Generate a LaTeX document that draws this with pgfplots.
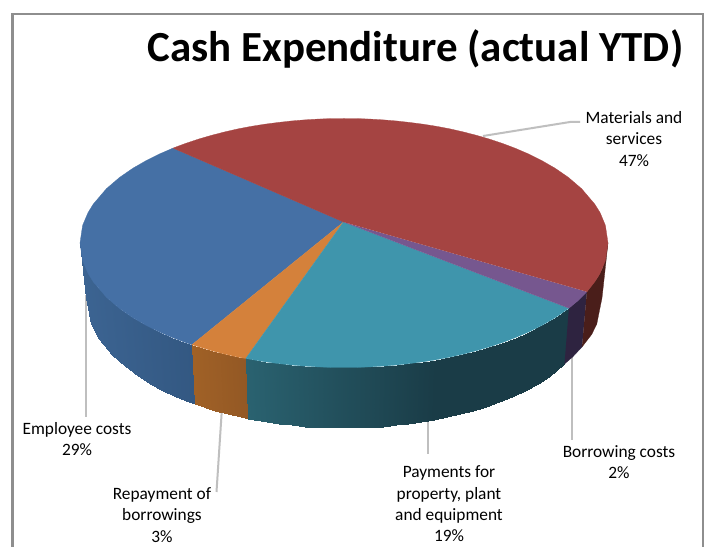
\documentclass[border=0pt]{standalone}
\usepackage{pgfplots}
\pgfplotsset{compat=1.18}
\usepackage{fontspec}
\setmainfont{Carlito}
\definecolor{cBlue}{HTML}{4570A5}
\definecolor{cRed}{HTML}{A54442}
\definecolor{cTeal}{HTML}{3F95AC}
\definecolor{cOrange}{HTML}{D4813B}
\definecolor{cPurple}{HTML}{76578F}
\definecolor{cPurpleS}{HTML}{2E2340}
\definecolor{cRedS}{HTML}{4A1E1A}
\definecolor{cLead}{HTML}{BFBFBF}
\definecolor{cFrame}{HTML}{8E8E8E}
\begin{document}
\begin{tikzpicture}
\pgfplotsset{
  sideface/.style={surf, shader=interp, mesh/cols=2, point meta=explicit, forget plot},
  lead/.style={draw=cLead, line width=1.5pt, no markers, forget plot},
  topface/.style={line width=0.2pt, no markers, forget plot},
}
\begin{axis}[
  scale only axis, width=531pt, height=410.25pt,
  xmin=0, xmax=708, ymin=0, ymax=547, y dir=reverse,
  hide axis, enlargelimits=false, clip=false,
  point meta min=0, point meta max=1,
  colormap={sideblue}{rgb255=(60,100,146) rgb255=(51,88,130)},
  colormap={sideorange}{rgb255=(160,97,38) rgb255=(147,88,37)},
  colormap={sideteal}{rgb255=(42,98,112) rgb255=(26,60,71)},
]
% page background
\addplot[fill=white, draw=none, forget plot] coordinates {(0,0) (708,0) (708,547) (0,547)};
% frame
\addplot[draw=cFrame, line width=1.6pt, no markers, forget plot] coordinates {(12.5,547) (12.5,14) (703,14) (703,547)};
% leader lines
\addplot[lead] coordinates {(86,295) (86,417)};
\addplot[lead] coordinates {(221.7,412) (216.5,492)};
\addplot[lead] coordinates {(428,420) (428,454)};
\addplot[lead] coordinates {(571.7,355) (571.7,440)};
\addplot[lead] coordinates {(483,136) (570,122) (580,122)};
% side faces
\addplot[sideface, colormap name=sideblue] table[x=x,y=y,meta=m] {
x y m
80 243 0
86 298 0
85.3 267.8 0.05
91.2 323.9 0.05
93.2 281.8 0.12
98.9 338.6 0.12
106.4 297.3 0.24
111.8 354.7 0.24
119.6 308.6 0.35
124.7 366.5 0.35
132.8 317.7 0.47
137.6 376 0.47
146 325.3 0.59
150.5 383.9 0.59
159.2 331.9 0.71
163.4 390.8 0.71
172.4 337.6 0.83
176.3 396.8 0.83
185.6 342.6 0.94
189.2 402 0.94
192 344.7 1
195.4 404.2 1
};
\addplot[sideface, colormap name=sideorange] table[x=x,y=y,meta=m] {
x y m
192 344.7 0
195.4 404.2 0
212 350.8 0.35
215 410.6 0.35
225.2 354.2 0.6
227.9 414.1 0.6
238.4 357.2 0.85
240.8 417.2 0.85
245.8 358.5 1
248 418.6 1
};
\addplot[sideface, colormap name=sideteal] table[x=x,y=y,meta=m] {
x y m
245.8 358.5 0
248 418.6 0
264.8 361.8 0.1
266.6 422 0.1
278 363.5 0.17
279.5 423.8 0.17
291.2 365 0.24
292.4 425.4 0.24
304.4 366.1 0.31
305.3 426.6 0.31
317.6 366.9 0.38
318.2 427.4 0.38
330.8 367.4 0.45
331.1 427.9 0.45
344 367.5 0.52
344 428 0.52
357.2 367.4 0.58
356.9 427.9 0.58
370.4 366.9 0.65
369.8 427.4 0.65
383.6 366.1 0.72
382.7 426.6 0.72
396.8 365 0.79
395.6 425.4 0.79
410 363.5 0.86
408.5 423.8 0.86
423.2 361.8 0.93
421.4 422 0.93
436.4 359.7 1
434.3 419.8 1
449.6 357.2 1
447.2 417.2 1
462.8 354.2 1
460.1 414.1 1
476 350.8 1
473 410.6 1
489.2 347 1
485.9 406.6 1
502.4 342.6 1
498.8 402 1
515.6 337.6 1
511.7 396.8 1
528.8 331.9 1
524.6 390.8 1
542 325.3 1
537.5 383.9 1
555.2 317.7 1
550.4 376 1
568.9 308.2 1
564.5 364 1
};
\addplot[fill=cPurpleS, draw=cPurpleS, topface] coordinates {(568.9,308.2) (577.6,301) (586.9,291.8) (582,347) (572.6,357) (564.5,364)};
\addplot[fill=cRedS, draw=cRedS, topface] coordinates {(586.9,291.8) (597.4,277.9) (602.7,267.8) (608,243) (602,298) (596.8,323.9) (591.7,334.4) (582,347)};
% top faces
\addplot[fill=cBlue, draw=cBlue, topface] coordinates {
(343.5,222) (173,148.1) (159.2,154.1) (146,160.7) (132.8,168.3) (119.6,177.4) (106.4,188.7) (93.2,204.2) (88,212.7) (82.6,225.4) (80,243)
(82.6,260.6) (88,273.3) (93.2,281.8) (106.4,297.3) (119.6,308.6) (132.8,317.7) (146,325.3) (159.2,331.9) (172.4,337.6) (185.6,342.6) (192,344.7)};
\addplot[fill=cOrange, draw=cOrange, topface] coordinates {
(343.5,222) (192,344.7) (212,350.8) (225.2,354.2) (238.4,357.2) (245.8,358.5)};
\addplot[fill=cTeal, draw=cTeal, topface] coordinates {
(343.5,222) (245.8,358.5) (264.8,361.8) (278,363.5) (291.2,365) (304.4,366.1) (317.6,366.9) (330.8,367.4) (344,367.5) (357.2,367.4) (370.4,366.9) (383.6,366.1) (396.8,365) (410,363.5) (423.2,361.8) (436.4,359.7) (449.6,357.2) (462.8,354.2) (476,350.8) (489.2,347) (502.4,342.6) (515.6,337.6) (528.8,331.9) (542,325.3) (555.2,317.7) (568.9,308.2)};
\addplot[fill=cPurple, draw=cPurple, topface] coordinates {
(343.5,222) (568.9,308.2) (577.6,301) (586.9,291.8)};
\addplot[fill=cRed, draw=cRed, topface] coordinates {
(343.5,222) (173,148.1) (185.6,143.4) (198.8,139) (212,135.2) (225.2,131.8) (238.4,128.8) (251.6,126.3) (264.8,124.2) (278,122.5) (291.2,121) (304.4,119.9) (317.6,119.1) (330.8,118.6) (344,118.5) (357.2,118.6) (370.4,119.1) (383.6,119.9) (396.8,121) (410,122.5) (423.2,124.2) (436.4,126.3) (449.6,128.8) (462.8,131.8) (476,135.2) (489.2,139) (502.4,143.4) (515.6,148.4) (528.8,154.1) (542,160.7) (555.2,168.3) (568.4,177.4) (581.6,188.7) (594.8,204.2) (600.1,212.7) (605.4,225.4) (608,243) (605.4,260.6) (600.1,273.3) (594.8,281.8) (586.9,291.8)};
% texts
\node[anchor=center, font=\bfseries\fontsize{32.2}{36}\selectfont] at (axis cs:415.5,49) {Cash Expenditure (actual YTD)};
\tikzset{lbl/.style={anchor=center, align=center, font=\fontsize{13}{16}\selectfont}}
\node[lbl] at (axis cs:634,139) {Materials and\\services\\47\%};
\node[lbl] at (axis cs:77,439) {Employee costs\\29\%};
\node[lbl] at (axis cs:162,515) {Repayment of\\borrowings\\3\%};
\node[lbl] at (axis cs:449,504) {Payments for\\property, plant\\and equipment\\19\%};
\node[lbl] at (axis cs:619,462) {Borrowing costs\\2\%};
\end{axis}
\end{tikzpicture}
\end{document}
